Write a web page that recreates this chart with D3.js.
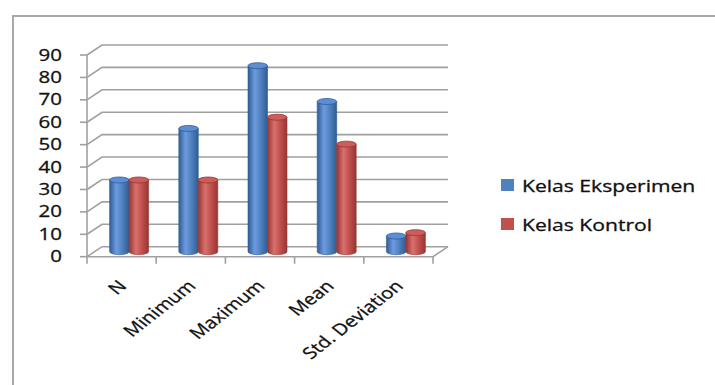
<!DOCTYPE html>
<html><head><meta charset="utf-8">
<script src="https://cdn.jsdelivr.net/npm/d3@7"></script>
<style>html,body{margin:0;padding:0;background:#fff;}svg{display:block;}</style>
</head><body>
<svg id="chart" width="715" height="385"></svg>
<script>
const categories = ["N", "Minimum", "Maximum", "Mean", "Std. Deviation"];
const seriesNames = ["Kelas Eksperimen", "Kelas Kontrol"];
const eksperimen = [32, 55, 83, 67, 7];
const kontrol = [32, 32, 60, 48, 8.5];
const yTicks = [0, 10, 20, 30, 40, 50, 60, 70, 80, 90];
const seriesColors = [
  {base: "#4f81bd", dark: "#2f5d95", light: "#6d9be0", top: "#5b8ed3"},
  {base: "#c0504d", dark: "#973532", light: "#d8716d", top: "#cc5d5a"}
];

const svg = d3.select("#chart");
const SX = 1.28; // horizontal stretch of the reference picture's text
const FONT = "'Open Sans', 'DejaVu Sans', sans-serif";
const TXT = "#111";

// border
svg.append("rect").attr("x", 13).attr("y", 16).attr("width", 720).attr("height", 400)
  .attr("fill", "none").attr("stroke", "#a8a8a8").attr("stroke-width", 2);

const x0 = 87, x1 = 433;
const dx = 15, dy = -10;
const y = d3.scaleLinear().domain([0, 90]).range([256.7, 55]);
const xBand = d3.scaleBand().domain(categories).range([x0, x1]).padding(0);
const pairW = 39;
const xInner = d3.scaleBand().domain(seriesNames)
  .range([(xBand.bandwidth() - pairW) / 2, (xBand.bandwidth() + pairW) / 2]).padding(0);

const grid = svg.append("g").attr("stroke", "#a0a0a0").attr("stroke-width", 1.6).attr("fill", "none");
yTicks.forEach(t => {
  const yy = y(t);
  grid.append("path").attr("d", `M${x0},${yy}L${x0 + dx},${yy + dy}L${x1 + dx},${yy + dy}`);
  grid.append("line").attr("x1", x0 - 7).attr("x2", x0).attr("y1", yy).attr("y2", yy);
});
// front axis + floor
grid.append("line").attr("x1", x0).attr("x2", x0).attr("y1", y(90)).attr("y2", y(0));
grid.append("path").attr("d", `M${x0},${y(0)}L${x1},${y(0)}L${x1 + dx},${y(0) + dy}`);
const bounds = categories.map(c => xBand(c)).concat([x1]);
bounds.forEach(b => {
  grid.append("line").attr("x1", b).attr("x2", b).attr("y1", y(0)).attr("y2", y(0) + 7);
});

// gradients
const defs = svg.append("defs");
seriesColors.forEach((c, i) => {
  const g = defs.append("linearGradient").attr("id", "grad" + i).attr("x1", "0").attr("x2", "1").attr("y1", "0").attr("y2", "0");
  g.append("stop").attr("offset", "0%").attr("stop-color", c.dark);
  g.append("stop").attr("offset", "35%").attr("stop-color", c.light);
  g.append("stop").attr("offset", "65%").attr("stop-color", c.base);
  g.append("stop").attr("offset", "100%").attr("stop-color", c.dark);
});

// bars (cylinders) at mid-depth
const mx = dx / 2, my = dy / 2;
const ry = 3;
const seriesData = [eksperimen, kontrol];
const barsG = svg.append("g");
categories.forEach((cat, ci) => {
  seriesNames.forEach((s, si) => {
    const v = seriesData[si][ci];
    const bx = xBand(cat) + xInner(s) + mx;
    const w = xInner.bandwidth();
    const yb = y(0) + my, yt = y(v) + my;
    const c = seriesColors[si];
    const g = barsG.append("g");
    g.append("path")
      .attr("d", `M${bx},${yt}L${bx},${yb}A${w / 2},${ry} 0 0 0 ${bx + w},${yb}L${bx + w},${yt}Z`)
      .attr("fill", `url(#grad${si})`).attr("stroke", c.dark).attr("stroke-width", 0.6);
    g.append("ellipse").attr("cx", bx + w / 2).attr("cy", yt).attr("rx", w / 2).attr("ry", ry)
      .attr("fill", c.top).attr("stroke", c.dark).attr("stroke-width", 0.8);
  });
});

function styleText(sel, size) {
  sel.attr("font-family", FONT).attr("font-size", size).attr("fill", TXT)
    .attr("stroke", TXT).attr("stroke-width", 0.3);
}

// y labels
styleText(svg.append("g").selectAll("text").data(yTicks).join("text")
  .attr("transform", d => `translate(62,${y(d)}) scale(${SX},1)`)
  .attr("text-anchor", "end").attr("dy", "0.35em")
  .text(d => d), 16);

// x labels
styleText(svg.append("g").selectAll("text").data(categories).join("text")
  .attr("transform", d => `translate(${xBand(d) + xBand.bandwidth() / 2 + 6},287) scale(${SX},1) rotate(-45)`)
  .attr("text-anchor", "end")
  .text(d => d), 16);

// legend
const leg = svg.append("g");
seriesNames.forEach((s, i) => {
  const ly = 179 + i * 39;
  leg.append("rect").attr("x", 501).attr("y", ly).attr("width", 13).attr("height", 12).attr("fill", seriesColors[i].base);
  styleText(leg.append("text").attr("transform", `translate(522,${ly + 12.5}) scale(${SX},1)`).text(s), 16.5);
});
</script>
</body></html>
